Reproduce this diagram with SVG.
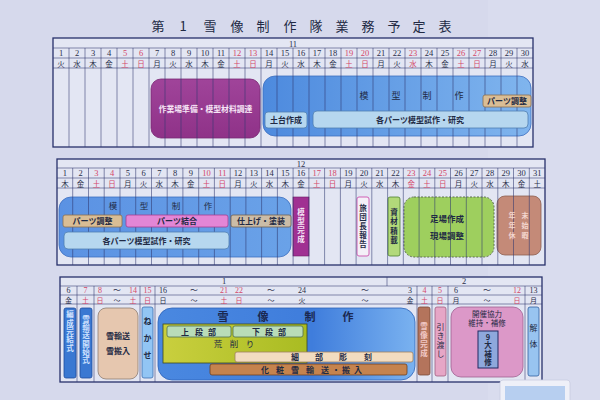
<svg xmlns="http://www.w3.org/2000/svg" width="600" height="400" viewBox="0 0 600 400">
<defs>
<linearGradient id="gBlue1" x1="0" y1="0" x2="1" y2="0"><stop offset="0" stop-color="#4d8ade"/><stop offset="1" stop-color="#80b5ee"/></linearGradient>
<linearGradient id="gBlue2" x1="0" y1="0" x2="1" y2="0"><stop offset="0" stop-color="#5b92e3"/><stop offset="1" stop-color="#6aa2e8"/></linearGradient>
<linearGradient id="gBlue3" x1="0" y1="0" x2="1" y2="0"><stop offset="0" stop-color="#4a88e0"/><stop offset="0.6" stop-color="#3f7ddc"/><stop offset="1" stop-color="#7ab2f0"/></linearGradient>
<linearGradient id="gYel" x1="0" y1="0" x2="1" y2="0"><stop offset="0" stop-color="#c9cf3e"/><stop offset="1" stop-color="#a9bc22"/></linearGradient>
<linearGradient id="gPur" x1="0" y1="0" x2="0" y2="1"><stop offset="0" stop-color="#a0449a"/><stop offset="1" stop-color="#8f3288"/></linearGradient>
</defs>
<style>
.tbl{fill:#e3e6f3;stroke:#27306a;stroke-width:1.3}
.grid{fill:none;stroke:#2f3870;stroke-width:0.7;stroke-opacity:0.8}
.n{font-family:"Liberation Serif",serif;font-size:8.5px;text-anchor:middle;fill:#2a2f4a}
.w{font-family:"Noto Sans CJK JP",sans-serif;font-size:7.5px;text-anchor:middle;fill:#2a2f4a}
.n3{font-size:8px}
.w3{font-size:7px}
.r{fill:#d4486a}
.lb{font-family:"Noto Sans CJK JP",sans-serif;font-size:8px;font-weight:bold;text-anchor:middle;fill:#1f2a44}
.vt{writing-mode:vertical-rl;text-orientation:upright;font-size:7.5px}
.big{font-family:"Noto Sans CJK JP",sans-serif;font-size:11px;font-weight:bold;text-anchor:middle;fill:#1a2850}
.wt{fill:#f6e6f6}
.cyan{fill:#b6d7ef;stroke:#4f7fb2;stroke-width:0.8}
.tan{fill:#d9bd95;stroke:#8a7050;stroke-width:0.8}
.vb{fill:#3a78d2;stroke:#1f4c9c;stroke-width:0.8}
</style>
<rect x="0" y="0" width="600" height="400" fill="#d6d9ec"/>
<rect x="488" y="0" width="112" height="400" fill="#d9dcee"/>

<g id="title">
<text class="big" style="font-weight:normal;font-size:13px;fill:#222a44" y="31" x="158 183 210 237 263 290 316 342 368 394 419 445">第1雪像制作隊業務予定表</text>
</g>

<!-- ================= TABLE 1 (November) ================= -->
<g id="table-nov">
<rect class="tbl" x="53" y="38" width="480" height="109"/>
<path class="grid" d="M53 48H533M53 58H533M53 68H533"/>
<text class="n" x="293" y="46.5">11</text>
</g>
<g id="nov-purple">
<rect x="151" y="79" width="109" height="59" rx="10" fill="url(#gPur)" stroke="#7a2873" stroke-width="0.8"/>
</g>
<g id="nov-mokei">
<rect x="263" y="76" width="268" height="60" rx="12" fill="url(#gBlue1)" stroke="#3e6fbf" stroke-width="0.8"/>
</g>
<g id="nov-grid">
<path class="grid" d="M69 48V147M85 48V147M101 48V147M117 48V147M133 48V147M149 48V147M165 48V147M181 48V147M197 48V147M213 48V147M229 48V147M245 48V147M261 48V147M277 48V147M293 48V147M309 48V147M325 48V147M341 48V147M357 48V147M373 48V147M389 48V147M405 48V147M421 48V147M437 48V147M453 48V147M469 48V147M485 48V147M501 48V147M517 48V147"/>
</g>
<g id="nov-days">
<text class="n" x="61" y="56">1</text><text class="n" x="77" y="56">2</text><text class="n" x="93" y="56">3</text><text class="n" x="109" y="56">4</text><text class="n r" x="125" y="56">5</text><text class="n r" x="141" y="56">6</text><text class="n" x="157" y="56">7</text><text class="n" x="173" y="56">8</text><text class="n" x="189" y="56">9</text><text class="n" x="205" y="56">10</text><text class="n" x="221" y="56">11</text><text class="n r" x="237" y="56">12</text><text class="n r" x="253" y="56">13</text><text class="n" x="269" y="56">14</text><text class="n" x="285" y="56">15</text><text class="n" x="301" y="56">16</text><text class="n" x="317" y="56">17</text><text class="n" x="333" y="56">18</text><text class="n r" x="349" y="56">19</text><text class="n r" x="365" y="56">20</text><text class="n" x="381" y="56">21</text><text class="n" x="397" y="56">22</text><text class="n r" x="413" y="56">23</text><text class="n" x="429" y="56">24</text><text class="n" x="445" y="56">25</text><text class="n r" x="461" y="56">26</text><text class="n r" x="477" y="56">27</text><text class="n" x="493" y="56">28</text><text class="n" x="509" y="56">29</text><text class="n" x="525" y="56">30</text>
<text class="w" y="66.5" x="61">火</text><text class="w" y="66.5" x="77">水</text><text class="w" y="66.5" x="93">木</text><text class="w" y="66.5" x="109">金</text><text class="w r" y="66.5" x="125">土</text><text class="w r" y="66.5" x="141">日</text><text class="w" y="66.5" x="157">月</text><text class="w" y="66.5" x="173">火</text><text class="w" y="66.5" x="189">水</text><text class="w" y="66.5" x="205">木</text><text class="w" y="66.5" x="221">金</text><text class="w r" y="66.5" x="237">土</text><text class="w r" y="66.5" x="253">日</text><text class="w" y="66.5" x="269">月</text><text class="w" y="66.5" x="285">火</text><text class="w" y="66.5" x="301">水</text><text class="w" y="66.5" x="317">木</text><text class="w" y="66.5" x="333">金</text><text class="w r" y="66.5" x="349">土</text><text class="w r" y="66.5" x="365">日</text><text class="w" y="66.5" x="381">月</text><text class="w" y="66.5" x="397">火</text><text class="w r" y="66.5" x="413">水</text><text class="w" y="66.5" x="429">木</text><text class="w" y="66.5" x="445">金</text><text class="w r" y="66.5" x="461">土</text><text class="w r" y="66.5" x="477">日</text><text class="w" y="66.5" x="493">月</text><text class="w" y="66.5" x="509">火</text><text class="w" y="66.5" x="525">水</text>
</g>
<g id="nov-labels">
<text class="lb wt" x="205.5" y="112" style="font-size:7.8px">作業場準備・模型材料調達</text>
<text class="lb" style="font-weight:normal;font-size:9px" y="99" x="364 396 427 459">模型制作</text>
</g>
<g id="nov-dodai"><rect class="cyan" x="265" y="112" width="42" height="16" rx="3"/><text class="lb" x="286" y="123">土台作成</text></g>
<g id="nov-kaku"><rect class="cyan" x="313" y="111" width="215" height="17" rx="4"/><text class="lb" x="420" y="123">各パーツ模型試作・研究</text></g>
<g id="nov-parts"><rect class="tan" x="483" y="95" width="48" height="12" rx="2"/><text class="lb" x="507" y="104">パーツ調整</text></g>

<!-- ================= TABLE 2 (December) ================= -->
<g id="table-dec">
<rect class="tbl" x="57" y="159" width="488" height="106"/>
<path class="grid" d="M57 168H545M57 178H545M57 188H545"/>
<text class="n" x="301" y="166.5">12</text>
</g>
<g id="dec-mokei">
<rect x="59" y="197" width="232" height="60" rx="12" fill="url(#gBlue2)" stroke="#3e6fbf" stroke-width="0.8"/>
</g>
<g id="dec-kansei"><rect x="293" y="197" width="16" height="59" fill="#a03092" stroke="#6e1f66" stroke-width="0.6"/></g>
<g id="dec-ryodan"><rect x="357" y="197" width="12" height="59" rx="2" fill="#f4f0f8" stroke="#d060b4" stroke-width="1"/></g>
<g id="dec-shizai"><rect x="388" y="197" width="12" height="59" rx="2" fill="#b2d97a" stroke="#4f8030" stroke-width="0.8"/></g>
<g id="dec-ashiba"><rect x="404" y="197" width="90" height="60" rx="10" fill="#9ecf5e" stroke="#5d6e50" stroke-width="1" stroke-dasharray="2 1.5"/></g>
<g id="dec-nenmatsu"><rect x="497" y="196" width="44" height="59" rx="8" fill="#c48a78" stroke="#8e5f50" stroke-width="0.8"/></g>
<g id="dec-grid">
<path class="grid" d="M72.7 168V265M88.5 168V265M104.2 168V265M120 168V265M135.7 168V265M151.5 168V265M167.2 168V265M182.9 168V265M198.7 168V265M214.4 168V265M230.2 168V265M245.9 168V265M261.6 168V265M277.4 168V265M293.1 168V265M308.9 168V265M324.6 168V265M340.4 168V265M356.1 168V265M371.8 168V265M387.6 168V265M403.3 168V265M419.1 168V265M434.8 168V265M450.5 168V265M466.3 168V265M482 168V265M497.8 168V265M513.5 168V265M529.3 168V265"/>
</g>
<g id="dec-days">
<text class="n" x="64.9" y="176">1</text><text class="n" x="80.6" y="176">2</text><text class="n r" x="96.4" y="176">3</text><text class="n r" x="112.1" y="176">4</text><text class="n" x="127.8" y="176">5</text><text class="n" x="143.6" y="176">6</text><text class="n" x="159.3" y="176">7</text><text class="n" x="175.1" y="176">8</text><text class="n" x="190.8" y="176">9</text><text class="n r" x="206.5" y="176">10</text><text class="n r" x="222.3" y="176">11</text><text class="n" x="238" y="176">12</text><text class="n" x="253.8" y="176">13</text><text class="n" x="269.5" y="176">14</text><text class="n" x="285.3" y="176">15</text><text class="n" x="301" y="176">16</text><text class="n r" x="316.7" y="176">17</text><text class="n r" x="332.5" y="176">18</text><text class="n" x="348.2" y="176">19</text><text class="n" x="364" y="176">20</text><text class="n" x="379.7" y="176">21</text><text class="n" x="395.5" y="176">22</text><text class="n r" x="411.2" y="176">23</text><text class="n r" x="427" y="176">24</text><text class="n r" x="442.7" y="176">25</text><text class="n" x="458.5" y="176">26</text><text class="n" x="474.2" y="176">27</text><text class="n" x="490" y="176">28</text><text class="n" x="505.7" y="176">29</text><text class="n" x="521.4" y="176">30</text><text class="n" x="537.2" y="176">31</text>
<text class="w" y="186.5" x="64.9">木</text><text class="w" y="186.5" x="80.6">金</text><text class="w r" y="186.5" x="96.4">土</text><text class="w r" y="186.5" x="112.1">日</text><text class="w" y="186.5" x="127.8">月</text><text class="w" y="186.5" x="143.6">火</text><text class="w" y="186.5" x="159.3">水</text><text class="w" y="186.5" x="175.1">木</text><text class="w" y="186.5" x="190.8">金</text><text class="w r" y="186.5" x="206.5">土</text><text class="w r" y="186.5" x="222.3">日</text><text class="w" y="186.5" x="238">月</text><text class="w" y="186.5" x="253.8">火</text><text class="w" y="186.5" x="269.5">水</text><text class="w" y="186.5" x="285.3">木</text><text class="w" y="186.5" x="301">金</text><text class="w r" y="186.5" x="316.7">土</text><text class="w r" y="186.5" x="332.5">日</text><text class="w" y="186.5" x="348.2">月</text><text class="w" y="186.5" x="364">火</text><text class="w" y="186.5" x="379.7">水</text><text class="w" y="186.5" x="395.5">木</text><text class="w r" y="186.5" x="411.2">金</text><text class="w r" y="186.5" x="427">土</text><text class="w r" y="186.5" x="442.7">日</text><text class="w" y="186.5" x="458.5">月</text><text class="w" y="186.5" x="474.2">火</text><text class="w" y="186.5" x="490">水</text><text class="w" y="186.5" x="505.7">木</text><text class="w" y="186.5" x="521.4">金</text><text class="w" y="186.5" x="537.2">土</text>
</g>
<g id="dec-labels">
<text class="lb" style="font-weight:normal;font-size:8.5px" y="209" x="113 144 176 208">模型制作</text>
<text class="lb vt wt" x="301" y="226.5" style="letter-spacing:1.5px">模型完成</text>
<text class="lb vt" x="363" y="226.5" style="letter-spacing:1.5px">旅団長報告</text>
<text class="lb vt" x="394" y="227" style="letter-spacing:1.8px">資材積載</text>
<text class="lb" x="447" y="221.5" style="font-size:8.5px">足場作成</text>
<text class="lb" x="447" y="239" style="font-size:8.5px">現場調整</text>
<text class="lb" style="font-size:7px;fill:#f3d6cf" x="512 525" y="218">年末</text>
<text class="lb" style="font-size:7px;fill:#f3d6cf" x="512 525" y="228">年始</text>
<text class="lb" style="font-size:7px;fill:#f3d6cf" x="512 525" y="238">休暇</text>
</g>
<g id="dec-parts"><rect class="tan" x="63" y="215" width="59" height="12" rx="2"/><text class="lb" x="92.5" y="224.3">パーツ調整</text></g>
<g id="dec-ketsugo"><rect x="126" y="215" width="102" height="12" rx="2" fill="#e386d6" stroke="#a23f92" stroke-width="0.8"/><text class="lb" x="177" y="224.3">パーツ結合</text></g>
<g id="dec-shiage"><rect x="231" y="215" width="60" height="12" rx="2" fill="#cbbca7" stroke="#706050" stroke-width="0.8"/><text class="lb" x="261" y="224.3">仕上げ・塗装</text></g>
<g id="dec-kaku"><rect class="cyan" x="64" y="232" width="165" height="17" rx="4"/><text class="lb" x="146.5" y="243.5">各パーツ模型試作・研究</text></g>

<!-- ================= TABLE 3 (January / February) ================= -->
<g id="table-jan">
<rect class="tbl" x="60" y="277" width="482" height="105"/>
<path class="grid" d="M60 286H542M60 295H542M60 304H542M387 277V286M77 286V382M94 286V382M140 286V382M155 286V382M417 286V382M432 286V382M448 286V382M525 286V382"/>
<text class="n" x="224" y="284.3">1</text>
<text class="n" x="464" y="284.3">2</text>
</g>
<g id="jan-days">
<text class="n n3" x="68.5" y="292.8">6</text><text class="n n3 r" x="85.5" y="292.8">7</text><text class="n n3 r" x="100" y="292.8">8</text><text class="n n3" x="117" y="292.8">〜</text><text class="n n3 r" x="133" y="292.8">14</text><text class="n n3 r" x="147.5" y="292.8">15</text><text class="n n3" x="163" y="292.8">16</text><text class="n n3" x="194" y="292.8">〜</text><text class="n n3 r" x="224" y="292.8">21</text><text class="n n3 r" x="239" y="292.8">22</text><text class="n n3" x="271" y="292.8">〜</text><text class="n n3" x="302" y="292.8">24</text><text class="n n3" x="365" y="292.8">〜</text><text class="n n3" x="410" y="292.8">3</text><text class="n n3 r" x="424.5" y="292.8">4</text><text class="n n3 r" x="440" y="292.8">5</text><text class="n n3" x="456" y="292.8">6</text><text class="n n3" x="487" y="292.8">〜</text><text class="n n3 r" x="517" y="292.8">12</text><text class="n n3" x="533.5" y="292.8">13</text>
<text class="w w3" y="303" x="68.5">金</text><text class="w w3 r" y="303" x="85.5">土</text><text class="w w3 r" y="303" x="100">日</text><text class="w w3" y="303" x="117">〜</text><text class="w w3 r" y="303" x="133">土</text><text class="w w3 r" y="303" x="147.5">日</text><text class="w w3" y="303" x="163">日</text><text class="w w3" y="303" x="194">〜</text><text class="w w3 r" y="303" x="224">土</text><text class="w w3 r" y="303" x="239">日</text><text class="w w3" y="303" x="271">〜</text><text class="w w3" y="303" x="302">火</text><text class="w w3" y="303" x="365">〜</text><text class="w w3" y="303" x="410">金</text><text class="w w3 r" y="303" x="424.5">土</text><text class="w w3 r" y="303" x="440">日</text><text class="w w3" y="303" x="456">月</text><text class="w w3" y="303" x="487">〜</text><text class="w w3 r" y="303" x="517">日</text><text class="w w3" y="303" x="533.5">月</text>
</g>
<g id="jan-hensei"><rect class="vb" x="64" y="308" width="12" height="70" rx="2"/>
<text class="lb vt" x="70" y="331.5" style="letter-spacing:0.8px;fill:#cfe2ff">編成完結式</text></g>
<g id="jan-yuso-kaishi"><rect class="vb" x="80" y="308" width="12" height="70" rx="2"/>
<text class="lb vt" x="86" y="340" style="letter-spacing:0.7px;fill:#cfe2ff">雪輸送開始式</text></g>
<g id="jan-yuso"><rect x="98" y="308" width="40" height="71" rx="8" fill="#e6c7af" stroke="#8d7d74" stroke-width="0.8"/>
<text class="lb" x="118" y="338.5">雪輸送</text><text class="lb" x="118" y="354">雪搬入</text></g>
<g id="jan-nekase"><rect x="142" y="307" width="11" height="71" rx="2" fill="#92c5f4" stroke="#3f6fb0" stroke-width="0.8"/>
<text class="lb vt" x="147.5" y="342" style="font-size:8px;letter-spacing:9px">ねかせ</text></g>
<g id="jan-seisaku">
<rect x="158" y="308" width="257" height="72" rx="14" fill="url(#gBlue3)" stroke="#2f63b8" stroke-width="0.8"/>
<text class="big" y="321" x="223 263 310 348">雪像制作</text>
<rect x="163" y="324" width="144" height="39" fill="url(#gYel)" stroke="#3e4a20" stroke-width="0.8"/>
<text class="lb" style="font-weight:normal;font-size:8.5px" y="347" x="218 234 250">荒削り</text>
</g>
<g id="jan-jodan"><rect x="167" y="326" width="64" height="11" rx="2" fill="#b9dcb8" stroke="#4f6e50" stroke-width="0.8"/><text class="lb" y="334.5" x="185 199 212">上段部</text></g>
<g id="jan-gedan"><rect x="233" y="326" width="70" height="11" rx="2" fill="#b9dcb8" stroke="#4f6e50" stroke-width="0.8"/><text class="lb" y="334.5" x="256 269 282">下段部</text></g>
<g id="jan-saibu"><rect x="235" y="352" width="178" height="10" rx="2" fill="#f2dcc0" stroke="#a08060" stroke-width="0.8"/><text class="lb" y="360.3" x="295 319 343 368">細部彫刻</text></g>
<g id="jan-kesho"><rect x="210" y="364" width="197" height="11" rx="2" fill="#c5834e" stroke="#6f4020" stroke-width="0.8"/><text class="lb" y="372.8" x="265 280 295 310 325 336 346 358">化粧雪輸送・搬入</text></g>
<g id="feb-kansei"><rect x="418" y="307" width="12" height="68" rx="2" fill="#b4745c" stroke="#7a4a38" stroke-width="0.8"/>
<text class="lb vt" x="424" y="340.5" style="letter-spacing:1.5px;fill:#f2c9c6">雪像完成</text></g>
<g id="feb-hikiwatashi"><rect x="435" y="307" width="11" height="69" rx="2" fill="#e6a6c6" stroke="#a06080" stroke-width="0.8"/>
<text class="lb vt" x="440.5" y="340.5" style="font-size:8px;font-weight:normal;letter-spacing:1px">引き渡し</text></g>
<g id="feb-kaisai"><rect x="451" y="307" width="72" height="70" rx="10" fill="#dc98c8" stroke="#a06090" stroke-width="0.8"/>
<text class="lb" style="font-weight:normal;font-size:7.5px" x="487" y="316.5">開催協力</text><text class="lb" style="font-weight:normal;font-size:7.5px" x="487" y="326">維持・補修</text></g>
<g id="feb-daihoshu"><rect x="478" y="331" width="20" height="37" fill="#8ea8dc" stroke="#202860" stroke-width="1"/>
<text class="lb vt" x="488" y="350" style="letter-spacing:0.8px">9大補修</text></g>
<g id="feb-kaitai"><rect x="528" y="307" width="11" height="69" rx="2" fill="#98c4f0" stroke="#3060a0" stroke-width="0.8"/>
<text class="lb vt" x="533.5" y="340" style="font-size:8px;font-weight:normal;letter-spacing:8px">解体</text></g>

<g id="corner-object">
<rect x="500" y="380" width="70" height="24" rx="3" fill="#eef0f8" stroke="#c8cce0" stroke-width="0.8"/>
<rect x="505" y="386" width="60" height="14" fill="#9fc0ec" opacity="0.7"/>
</g>
</svg>
